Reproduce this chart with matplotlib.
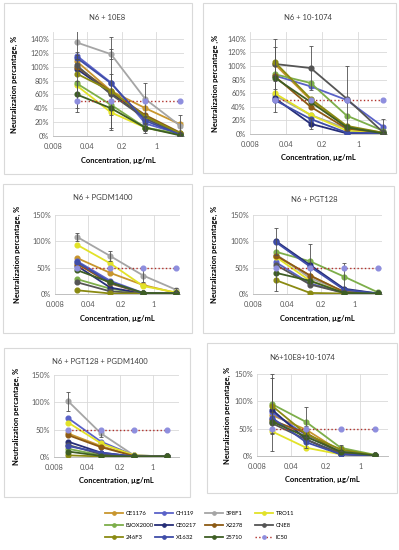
import numpy as np
import matplotlib.pyplot as plt
from matplotlib.patches import Rectangle

plt.rcParams['font.family'] = ['Lato', 'DejaVu Sans']

W, H = 399, 550

# strains (legend order) and their colours
strains = ['CE1176', 'CH119', '398F1', 'TRO11', 'BJOX2000', 'CE0217',
           'X2278', 'CNE8', '246F3', 'X1632', '25710']
colors = ['#C8962E', '#5A62C8', '#A5A5A5', '#E2E228', '#7DAE4A', '#262E78',
          '#8C5A14', '#555555', '#8A8A12', '#3F4DA8', '#3E5E24']

conc_single = [0.024, 0.12, 0.6, 3.0]
conc_triple = [0.016, 0.08, 0.4, 2.0]
ic50 = [50, 50, 50, 50]

# neutralization %, one row per strain
n6_10e8 = [[108, 65, 40, 17], [116, 77, 18, 3], [135, 118, 53, 15], [73, 34, 12, 2],
           [76, 45, 12, 3], [97, 62, 28, 3], [100, 64, 30, 5], [102, 60, 25, 2],
           [90, 65, 28, 4], [113, 76, 22, 2], [60, 40, 12, 1]]
n6_10e8_err = [[0, 0, 0, 0], [5, 66, 10, 3], [18, 7, 24, 16], [38, 25, 5, 2],
               [0, 0, 0, 0], [0, 0, 0, 0], [0, 0, 0, 0], [0, 30, 0, 0],
               [0, 0, 0, 0], [0, 0, 0, 0], [20, 0, 7, 0]]

n6_101074 = [[103, 50, 10, 2], [86, 70, 50, 11], [57, 28, 8, 2], [60, 28, 5, 1],
             [88, 75, 27, 5], [53, 15, 1, 1], [85, 40, 8, 2], [103, 97, 52, 3],
             [106, 52, 12, 2], [50, 22, 2, 1], [83, 47, 10, 1]]
n6_101074_err = [[25, 0, 0, 0], [0, 0, 0, 11], [0, 0, 0, 0], [27, 0, 0, 0],
                 [0, 0, 0, 0], [0, 8, 0, 0], [0, 0, 0, 0], [37, 33, 48, 2],
                 [0, 0, 0, 0], [0, 0, 0, 0], [0, 0, 0, 0]]

n6_pgdm = [[68, 40, 17, 2], [62, 25, 2, 1], [108, 72, 35, 8], [93, 58, 15, 3],
           [28, 10, 1, 1], [53, 12, 1, 1], [57, 20, 1, 1], [22, 5, 1, 1],
           [7, 1, 1, 1], [60, 22, 1, 1], [45, 22, 2, 1]]
n6_pgdm_err = [[0, 0, 0, 0], [0, 0, 0, 0], [7, 10, 12, 4], [0, 0, 0, 0],
               [0, 0, 0, 0], [0, 0, 0, 0], [0, 0, 0, 0], [0, 0, 0, 0],
               [0, 0, 0, 0], [0, 0, 0, 0], [0, 0, 0, 0]]

n6_pgt128 = [[72, 35, 3, 1], [60, 20, 2, 1], [75, 30, 5, 1], [70, 25, 3, 1],
             [80, 62, 33, 3], [100, 55, 10, 1], [73, 35, 4, 1], [55, 18, 2, 1],
             [26, 2, 1, 1], [98, 52, 8, 1], [40, 25, 2, 1]]
n6_pgt128_err = [[0, 0, 0, 0], [0, 0, 0, 0], [0, 0, 0, 0], [0, 0, 0, 0],
                 [0, 0, 25, 0], [26, 40, 0, 0], [0, 0, 0, 0], [0, 0, 0, 0],
                 [21, 0, 0, 0], [0, 0, 0, 0], [0, 0, 0, 0]]

n6_pgt128_pgdm = [[43, 20, 2, 1], [71, 28, 3, 1], [102, 43, 3, 1], [63, 25, 3, 1],
                  [15, 3, 1, 1], [28, 8, 1, 1], [40, 18, 2, 1], [22, 5, 1, 1],
                  [3, 1, 1, 1], [20, 8, 1, 1], [10, 2, 1, 1]]
n6_pgt128_pgdm_err = [[0, 0, 0, 0], [0, 0, 0, 0], [17, 6, 0, 0], [0, 0, 0, 0],
                      [0, 0, 0, 0], [0, 0, 0, 0], [0, 0, 0, 0], [0, 0, 0, 0],
                      [0, 0, 0, 0], [0, 0, 0, 0], [0, 0, 0, 0]]

n6_10e8_101074 = [[75, 48, 8, 1], [80, 38, 5, 1], [68, 35, 10, 1], [45, 15, 3, 1],
                  [95, 62, 15, 2], [85, 30, 3, 1], [65, 42, 5, 1], [60, 30, 4, 1],
                  [92, 40, 12, 1], [70, 25, 3, 1], [63, 35, 8, 1]]
n6_10e8_101074_err = [[0, 0, 0, 0], [0, 0, 0, 0], [0, 0, 0, 0], [35, 0, 0, 0],
                      [55, 27, 6, 0], [0, 0, 0, 0], [0, 0, 0, 0], [0, 0, 0, 0],
                      [50, 0, 0, 0], [0, 0, 0, 0], [0, 20, 0, 0]]

# title, data, errors, concentrations, y ticks, plot box px (l,t,r,b), panel box px, title x, y-label, ylabel x, xlabel y
panels = [
    ('N6 + 10E8', n6_10e8, n6_10e8_err, conc_single, np.arange(0, 141, 20),
     (53, 32, 184, 136), (4, 3, 192, 174), 107, 'Neutralization percantage, %', 14, 160),
    ('N6 + 10-1074', n6_101074, n6_101074_err, conc_single, np.arange(0, 141, 20),
     (250, 32, 387, 134), (203, 3, 396, 173), 308, 'Neutralization percantage ,%', 215, 157),
    ('N6 + PGDM1400', n6_pgdm, n6_pgdm_err, conc_single, np.arange(0, 151, 50),
     (55, 215, 180, 294), (3, 184, 192, 333), 103, 'Neutralization percantage, %', 17, 318),
    ('N6 + PGT128', n6_pgt128, n6_pgt128_err, conc_single, np.arange(0, 151, 50),
     (253, 215, 382, 294), (203, 186, 394, 333), 314, 'Neutralization percantage, %', 214, 318),
    ('N6 + PGT128 + PGDM1400', n6_pgt128_pgdm, n6_pgt128_pgdm_err, conc_triple, np.arange(0, 151, 50),
     (54, 375, 179, 457), (4, 348, 190, 497), 100, 'Neutralization percantage, %', 16, 480),
    ('N6+10E8+10-1074', n6_10e8_101074, n6_10e8_101074_err, conc_triple, np.arange(0, 151, 50),
     (257, 374, 388, 456), (207, 343, 397, 493), 302, 'Neutralization percantage, %', 227, 479),
]

fig = plt.figure(figsize=(W / 100, H / 100), dpi=100)

xmax = 0.008 * 5 ** 3.8
handles = None

for title, vals, errs, conc, yt, pbox, box, tx, ylab, ylx, xly in panels:
    l, t, r, b = pbox
    ax = fig.add_axes([l / W, 1 - b / H, (r - l) / W, (b - t) / H])

    # panel frame
    bx0, by0, bx1, by1 = box
    fig.patches.append(Rectangle((bx0 / W, 1 - by1 / H), (bx1 - bx0) / W, (by1 - by0) / H,
                                 transform=fig.transFigure, fill=False,
                                 ec='#D9D9D9', lw=0.8))

    hs = []
    for name, c, v, e in zip(strains, colors, vals, errs):
        h, = ax.plot(conc, v, '-o', color=c, lw=1.3, ms=3.4, label=name, zorder=3)
        hs.append(h)
        e = np.array(e)
        idx = e > 0
        if idx.any():
            ax.errorbar(np.array(conc)[idx], np.array(v)[idx], yerr=e[idx], fmt='none',
                        ecolor='#505050', elinewidth=0.6, capsize=1.5, capthick=0.6, zorder=4)
    h, = ax.plot(conc, ic50, ':o', color='#B0302A', lw=1.0, ms=3.4,
                 mfc='#8E8EDE', mec='#8E8EDE', label='IC50', zorder=5)
    hs.append(h)
    if handles is None:
        handles = hs

    ax.set_xscale('log', base=5)
    ax.set_xlim(0.008, xmax)
    ax.set_xticks([0.008, 0.04, 0.2, 1])
    ax.set_xticklabels(['0.008', '0.04', '0.2', '1'])
    ax.minorticks_off()
    ax.set_ylim(0, 150)
    ax.set_yticks(yt)
    ax.set_yticklabels([f'{int(v)}%' for v in yt])
    ax.grid(True, color='#D9D9D9', lw=0.6)
    ax.set_axisbelow(True)
    for s in ['top', 'right', 'left']:
        ax.spines[s].set_visible(False)
    ax.spines['bottom'].set_color('#BFBFBF')
    ax.spines['bottom'].set_linewidth(0.7)
    ax.tick_params(length=0, labelsize=5.3, labelcolor='#595959')
    ax.tick_params(axis='x', pad=5)
    ax.tick_params(axis='y', pad=3)

    fig.text(tx / W, 1 - (by0 + 14) / H, title, ha='center', va='center',
             fontsize=5.5, color='#404040')
    fig.text(ylx / W, 1 - ((t + b) / 2) / H, ylab, rotation=90, ha='center', va='center',
             fontsize=5.4, fontweight='bold')
    fig.text(((l + r) / 2) / W, 1 - xly / H, 'Concentration, µg/mL', ha='center', va='center',
             fontsize=5.4, fontweight='bold')

# legend: four columns of three entries
col_x = [105, 155, 205, 255]
for c in range(4):
    fig.legend(handles[c::4], [h.get_label() for h in handles[c::4]],
               loc='upper left', bbox_to_anchor=(col_x[c] / W, 1 - 511 / H),
               frameon=False, fontsize=4.2, handlelength=3.0, handletextpad=0.6,
               labelspacing=1.15, borderpad=0, borderaxespad=0, markerscale=0.7)

fig.savefig('out.png', dpi=100, facecolor='white')
